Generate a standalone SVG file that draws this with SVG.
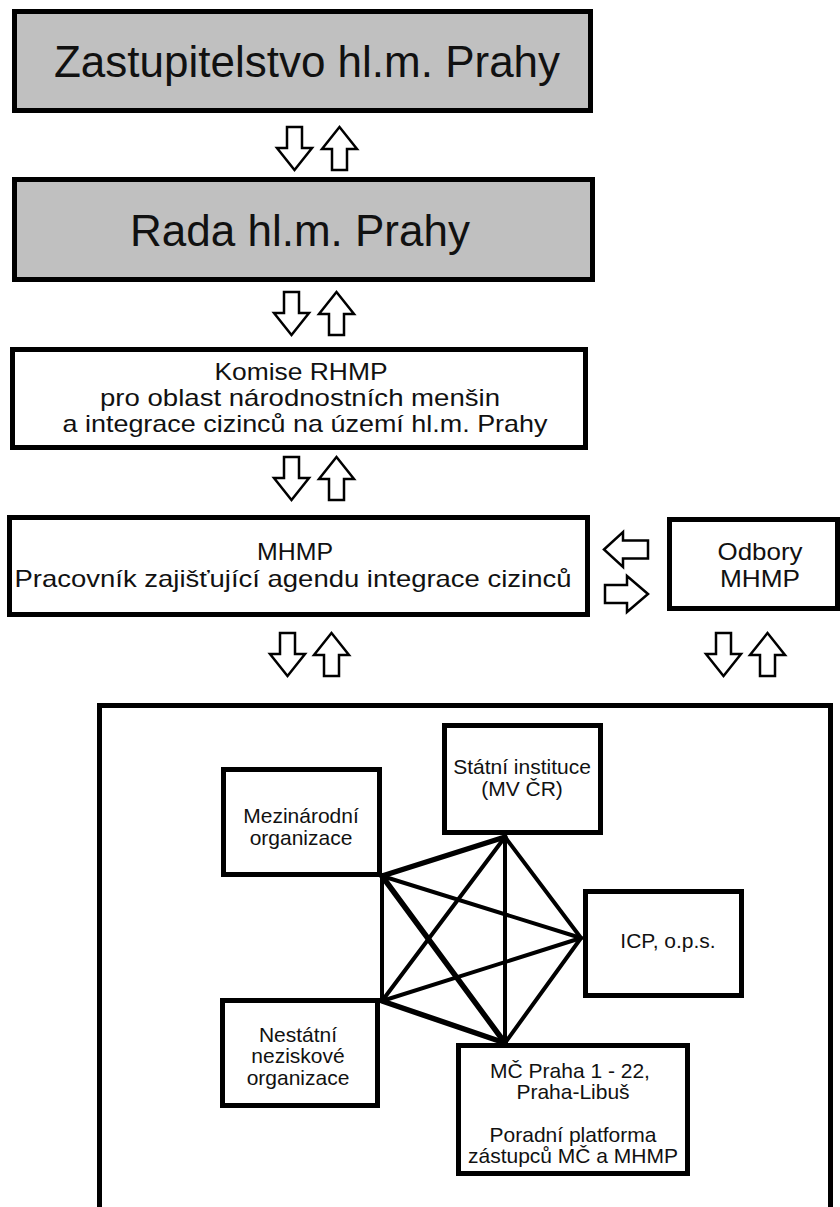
<svg xmlns="http://www.w3.org/2000/svg" width="840" height="1207" viewBox="0 0 840 1207">
<style>
.box{fill:#fff;stroke:#000;stroke-width:5}
.gray{fill:#c0c0c0;stroke:#000;stroke-width:5}
.arr{fill:#fff;stroke:#000;stroke-width:2.5;stroke-linejoin:miter}
.t{font-family:"Liberation Sans",Arial,sans-serif;fill:#111;text-anchor:middle}
.big{font-size:44px}
.mid{font-size:24px}
.sm{font-size:21px}
.ln{stroke:#000;stroke-width:4;fill:none;stroke-linecap:round}
.thk{stroke-width:5.5}
</style>
<defs>
<path id="down" class="arr" d="M10,0 H25 V21 H35 L17.5,43 L0,21 H10 Z"/>
<path id="up" class="arr" d="M17.5,0 L35,22 H25 V43 H10 V22 H0 Z"/>
</defs>
<rect width="840" height="1207" fill="#fff"/>

<g id="zastupitelstvo">
<rect class="gray" x="14.5" y="11.5" width="576" height="99"/>
<text class="t big" x="307" y="77">Zastupitelstvo hl.m. Prahy</text>
</g>
<g id="rada">
<rect class="gray" x="14.5" y="179.5" width="578" height="100"/>
<text class="t big" x="300" y="246">Rada hl.m. Prahy</text>
</g>
<g id="komise">
<rect class="box" x="12.5" y="349.5" width="573" height="98"/>
<text class="t mid" x="301" y="380" textLength="173" lengthAdjust="spacingAndGlyphs">Komise RHMP</text>
<text class="t mid" x="300" y="406" textLength="400" lengthAdjust="spacingAndGlyphs">pro oblast národnostních menšin</text>
<text class="t mid" x="305" y="432" textLength="485" lengthAdjust="spacingAndGlyphs">a integrace cizinců na území hl.m. Prahy</text>
</g>
<g id="mhmp">
<rect class="box" x="9.5" y="517.5" width="578" height="97"/>
<text class="t mid" x="295" y="560" textLength="76" lengthAdjust="spacingAndGlyphs">MHMP</text>
<text class="t mid" x="293" y="587" textLength="557" lengthAdjust="spacingAndGlyphs">Pracovník zajišťující agendu integrace cizinců</text>
</g>
<g id="odbory">
<rect class="box" x="669.5" y="519.5" width="168" height="89"/>
<text class="t mid" x="760" y="560" textLength="85" lengthAdjust="spacingAndGlyphs">Odbory</text>
<text class="t mid" x="760" y="587" textLength="80" lengthAdjust="spacingAndGlyphs">MHMP</text>
</g>
<g id="platforma">
<path class="box" d="M99.5,1212 V705.5 H830.5 V1212" fill="none"/>
</g>
<g id="mezinarodni">
<rect class="box" x="223.5" y="769.5" width="156" height="105"/>
<text class="t sm" x="301" y="823">Mezinárodní</text>
<text class="t sm" x="301" y="845">organizace</text>
</g>
<g id="statni">
<rect class="box" x="444.5" y="725.5" width="156" height="107"/>
<text class="t sm" x="522" y="774">Státní instituce</text>
<text class="t sm" x="522" y="796">(MV ČR)</text>
</g>
<g id="icp">
<rect class="box" x="585.5" y="891.5" width="156" height="104"/>
<text class="t sm" x="668" y="948">ICP, o.p.s.</text>
</g>
<g id="nestatni">
<rect class="box" x="222.5" y="1000.5" width="155" height="105"/>
<text class="t sm" x="298" y="1042">Nestátní</text>
<text class="t sm" x="298" y="1063">neziskové</text>
<text class="t sm" x="298" y="1085">organizace</text>
</g>
<g id="mc">
<rect class="box" x="458.5" y="1045.5" width="229" height="128"/>
<text class="t sm" x="570" y="1078">MČ Praha 1 - 22,</text>
<text class="t sm" x="573" y="1099">Praha-Libuš</text>
<text class="t sm" x="573" y="1142">Poradní platforma</text>
<text class="t sm" x="573" y="1163">zástupců MČ a MHMP</text>
</g>

<g id="connectors">
<use href="#down" x="277" y="127"/>
<use href="#up" x="322" y="127"/>
<use href="#down" x="274" y="292"/>
<use href="#up" x="319" y="292"/>
<use href="#down" x="274" y="457"/>
<use href="#up" x="319" y="457"/>
<use href="#down" x="270" y="633"/>
<use href="#up" x="314" y="633"/>
<use href="#down" x="706" y="633"/>
<use href="#up" x="750" y="633"/>
<path class="arr" d="M604,549.5 L623,532 V540.5 H648 V558.5 H623 V567 Z"/>
<path class="arr" d="M648,594 L627,576 V585 H605 V603 H627 V612 Z"/>
<line class="ln thk" x1="382" y1="876" x2="505" y2="837"/>
<line class="ln" x1="382" y1="876" x2="581" y2="938"/>
<line class="ln" x1="382" y1="876" x2="382" y2="1001"/>
<line class="ln thk" x1="382" y1="876" x2="505" y2="1043"/>
<line class="ln" x1="505" y1="837" x2="581" y2="938"/>
<line class="ln" x1="505" y1="837" x2="382" y2="1001"/>
<line class="ln" x1="505" y1="837" x2="505" y2="1043"/>
<line class="ln" x1="581" y1="938" x2="382" y2="1001"/>
<line class="ln" x1="581" y1="938" x2="505" y2="1043"/>
<line class="ln thk" x1="382" y1="1001" x2="505" y2="1043"/>
</g>
</svg>
